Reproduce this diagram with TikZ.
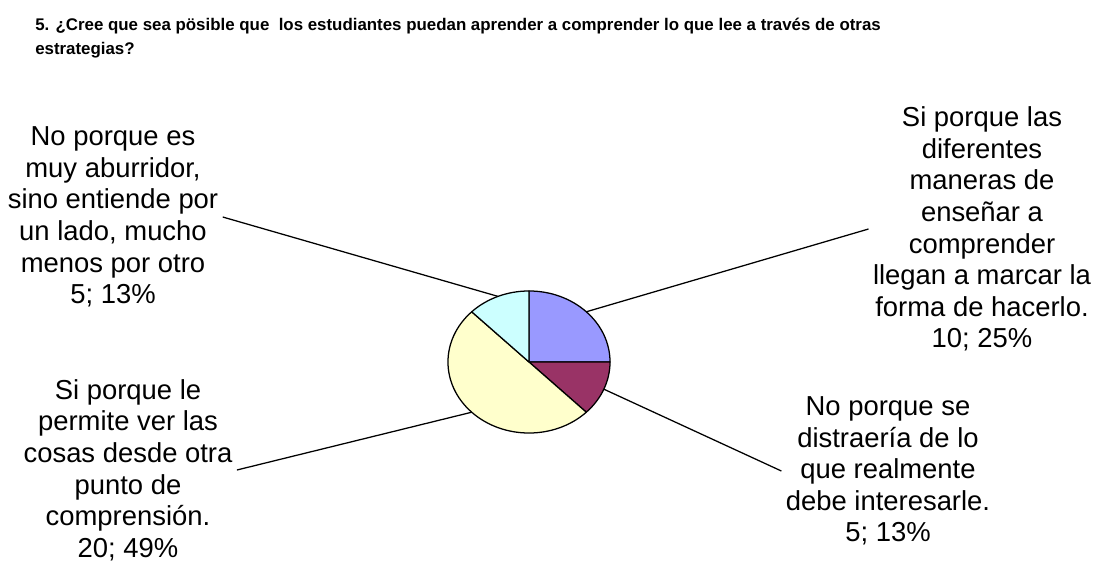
\documentclass[tikz,border=0pt]{standalone}
\usepackage{fontspec}
\setmainfont{Liberation Sans}
\usetikzlibrary{positioning}
\definecolor{my_blue}{RGB}{153, 153, 255}
\definecolor{my_maroon}{RGB}{153, 51, 102}
\definecolor{my_yellow}{RGB}{255, 255, 204}
\definecolor{my_cyan}{RGB}{204, 255, 255}
\tikzset {
  question/.style = {align=left, anchor=north west, inner sep=0pt, font=\fontsize{12}{17}\selectfont\bfseries},
  lbl/.style = {align=center, inner sep=3pt, font=\fontsize{19.5}{22.5}\selectfont},
  slice/.style = {draw=black, line width=0.9pt, line join=round},
  leader/.style = {draw=black, line width=0.9pt}
}

\begin{document}
\begin{tikzpicture}[x=0.025cm, y=-0.025cm]
    \useasboundingbox (0,0) rectangle (1096,563);

    \node[question, name=quest] (quest) at (35,18) {5. ¿Cree que sea pösible que\ \ los estudiantes puedan aprender a comprender lo que lee a través de otras\\estrategias?};

    % pie
    \coordinate (c) at (529,362);
    \foreach \a/\b/\col in {90/0/my_blue, 0/-45/my_maroon, -45/-225/my_yellow, -225/-270/my_cyan}
        \draw[slice, fill=\col] (c) -- ++(\a:2.025cm and 1.775cm) arc[start angle=\a, end angle=\b, x radius=2.025cm, y radius=1.775cm] -- cycle;

    \path (c) ++(45:2.025cm and 1.775cm) coordinate (pblue);
    \path (c) ++(-22.5:2.025cm and 1.775cm) coordinate (pmaroon);
    \path (c) ++(225:2.025cm and 1.775cm) coordinate (pyellow);
    \path (c) ++(112.5:2.025cm and 1.775cm) coordinate (pcyan);

    \node[lbl, name=cyanlbl] (cyanlbl) at (113,217) {No porque es\\muy aburridor,\\sino entiende por\\un lado, mucho\\menos por otro\\5; 13\%};
    \node[lbl, name=bluelbl] (bluelbl) at (982,229) {Si porque las\\diferentes\\maneras de\\enseñar a\\comprender\\llegan a marcar la\\forma de hacerlo.\\10; 25\%};
    \node[lbl, name=yellowlbl] (yellowlbl) at (128,470) {Si porque le\\permite ver las\\cosas desde otra\\punto de\\comprensión.\\20; 49\%};
    \node[lbl, name=maroonlbl] (maroonlbl) at (888,471) {No porque se\\distraería de lo\\que realmente\\debe interesarle.\\5; 13\%};

    \draw[leader] (cyanlbl.east) -- (pcyan);
    \draw[leader] (bluelbl.west) -- (pblue);
    \draw[leader] (yellowlbl.east) -- (pyellow);
    \draw[leader] (maroonlbl.west) -- (pmaroon);

  \end{tikzpicture}
\end{document}
